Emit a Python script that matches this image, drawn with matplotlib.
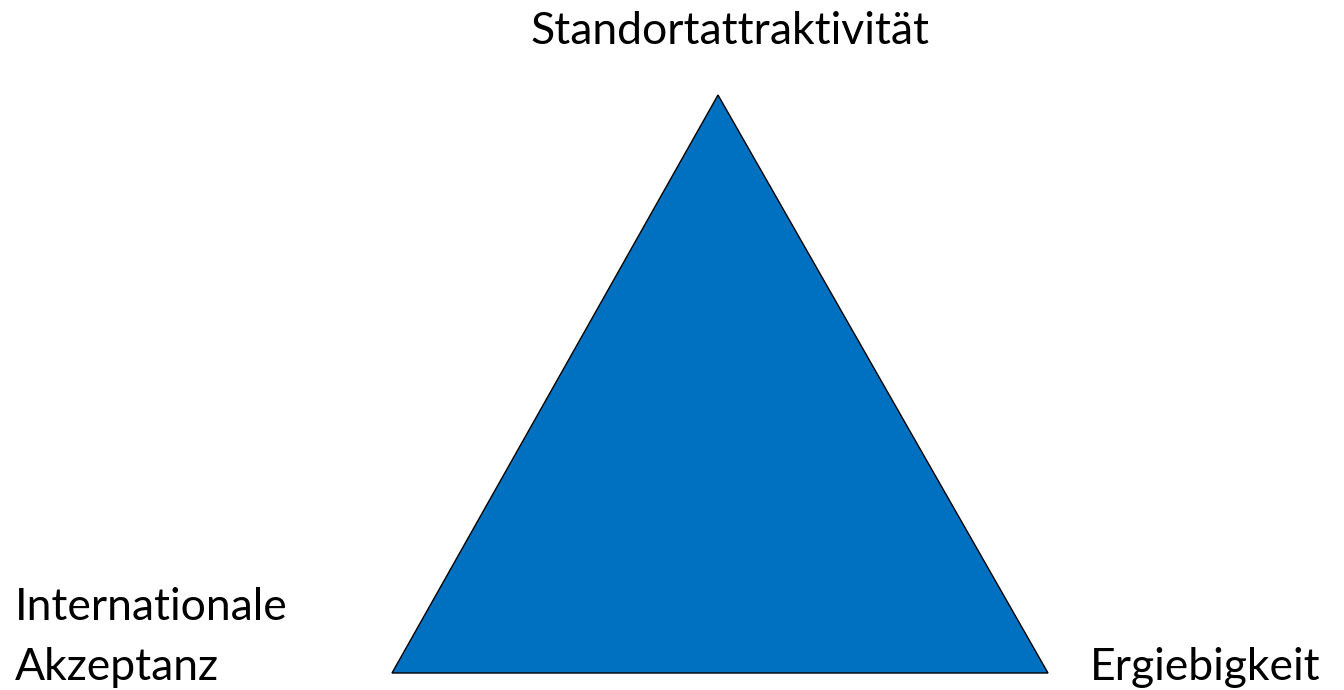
import matplotlib
matplotlib.use("Agg")
import matplotlib.pyplot as plt
from matplotlib.patches import Polygon

# triangle corners (pixel coordinates of the reference canvas)
corner_x = [718, 392, 1048]
corner_y = [95, 673, 673]

# corner labels: lines of text, anchor x and baseline y of each line
label_lines = [["Standortattraktivität"], ["Internationale", "Akzeptanz"], ["Ergiebigkeit"]]
label_x = [730, 15, 1090]
label_base = [[44], [620, 680], [680]]
label_ha = ["center", "left", "left"]

fill_color = "#0070C0"

fig = plt.figure(figsize=(13.44, 6.90), dpi=100)
ax = fig.add_axes([0, 0, 1, 1])
ax.set_xlim(0, 1344)
ax.set_ylim(690, 0)
ax.axis("off")

tri = Polygon(list(zip(corner_x, corner_y)), closed=True,
              facecolor=fill_color, edgecolor="black", linewidth=1.0)
ax.add_patch(tri)

for lines, x, bases, ha in zip(label_lines, label_x, label_base, label_ha):
    for txt, y in zip(lines, bases):
        ax.text(x, y, txt, ha=ha, va="baseline", fontsize=32,
                family="Lato", color="black")

fig.savefig("out.png", dpi=100)
